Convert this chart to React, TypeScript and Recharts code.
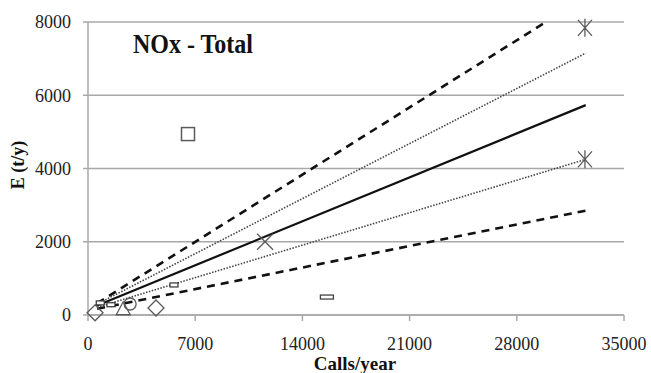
import React from "react";
import { ScatterChart, Scatter, XAxis, YAxis, CartesianGrid } from "recharts";

// Axis ticks
const xTicks = [0, 7000, 14000, 21000, 28000, 35000];
const yTicks = [0, 2000, 4000, 6000, 8000];

// Regression line and its bands (calls/year -> t/y)
const fitLine = [
  { x: 600, y: 260 },
  { x: 32500, y: 5730 },
];
const upperConf = [
  { x: 600, y: 300 },
  { x: 32500, y: 7150 },
];
const lowerConf = [
  { x: 600, y: 210 },
  { x: 32500, y: 4250 },
];
const upperPred = [
  { x: 600, y: 320 },
  { x: 29900, y: 8000 },
];
const lowerPred = [
  { x: 600, y: 170 },
  { x: 32500, y: 2850 },
];

// Observed points by site group
const squarePts = [{ x: 6530, y: 4940 }];
const diamondPts = [
  { x: 460, y: 60 },
  { x: 4440, y: 190 },
];
const trianglePts = [{ x: 2300, y: 170 }];
const circlePts = [{ x: 2750, y: 300 }];
const smallBarPts = [
  { x: 800, y: 330 },
  { x: 1500, y: 280 },
  { x: 5615, y: 820 },
];
const wideBarPts = [{ x: 15600, y: 490 }];
const crossPts = [{ x: 11560, y: 2000 }];
const starPts = [
  { x: 32450, y: 7840 },
  { x: 32450, y: 4250 },
];

const MARK = "#5a5a5a";
const FONT = "Liberation Serif";

const none = () => <g />;

const square = (p: any) => (
  <rect x={p.cx - 6.5} y={p.cy - 6.5} width={13} height={13} fill="#fff" stroke={MARK} strokeWidth={1.5} />
);
const diamond = (p: any) => (
  <path
    d={`M${p.cx},${p.cy - 8} L${p.cx + 8},${p.cy} L${p.cx},${p.cy + 8} L${p.cx - 8},${p.cy} Z`}
    fill="none"
    stroke={MARK}
    strokeWidth={1.3}
  />
);
const triangle = (p: any) => (
  <path
    d={`M${p.cx},${p.cy - 7} L${p.cx + 7},${p.cy + 6} L${p.cx - 7},${p.cy + 6} Z`}
    fill="none"
    stroke={MARK}
    strokeWidth={1.3}
  />
);
const circle = (p: any) => <circle cx={p.cx} cy={p.cy} r={6} fill="none" stroke={MARK} strokeWidth={1.3} />;
const smallBar = (p: any) => (
  <rect x={p.cx - 4} y={p.cy - 2} width={8} height={4} fill="#fff" stroke="#333" strokeWidth={1.2} />
);
const wideBar = (p: any) => (
  <rect x={p.cx - 6.5} y={p.cy - 2} width={13} height={4} fill="#fff" stroke="#444" strokeWidth={1.3} />
);
const cross = (p: any) => (
  <path
    d={`M${p.cx - 8},${p.cy - 8} L${p.cx + 8},${p.cy + 8} M${p.cx + 8},${p.cy - 8} L${p.cx - 8},${p.cy + 8}`}
    stroke={MARK}
    strokeWidth={1.3}
  />
);
const star = (p: any) => (
  <path
    d={`M${p.cx - 7},${p.cy - 8} L${p.cx + 7},${p.cy + 8} M${p.cx + 7},${p.cy - 8} L${p.cx - 7},${p.cy + 8} M${p.cx},${p.cy - 9} L${p.cx},${p.cy + 9}`}
    stroke={MARK}
    strokeWidth={1.3}
  />
);

// Tick text drawn as plain serif SVG text
const XTick = (p: any) => (
  <text x={p.x} y={p.y} dy="0.71em" textAnchor="middle" fontFamily={FONT} style={{ fontFamily: FONT }} fontSize={18} fill="#222">
    {p.payload.value}
  </text>
);
const YTick = (p: any) => (
  <text x={p.x} y={p.y} dy="0.355em" textAnchor="end" fontFamily={FONT} style={{ fontFamily: FONT }} fontSize={18} fill="#222">
    {p.payload.value}
  </text>
);

export default function App() {
  return (
    <div style={{ position: "absolute", left: 0, top: 0, width: 651, height: 373, background: "#fff" }}>
      <ScatterChart width={651} height={373} margin={{ top: 22, right: 27, bottom: 0, left: 0 }}>
        <CartesianGrid vertical={false} stroke="#a8a8a8" strokeWidth={1.5} />
        <XAxis
          type="number"
          dataKey="x"
          domain={[0, 35000]}
          ticks={xTicks}
          height={58}
          stroke="#a8a8a8"
          strokeWidth={1.5}
          tickSize={6}
          tickMargin={16}
          tick={XTick}
        />
        <YAxis
          type="number"
          dataKey="y"
          domain={[0, 8000]}
          ticks={yTicks}
          width={88}
          stroke="#a8a8a8"
          strokeWidth={1.5}
          tickSize={5}
          tickMargin={12}
          tick={YTick}
        />
        <Scatter data={upperPred} line={{ stroke: "#111", strokeWidth: 2.6, strokeDasharray: "8 6" }} shape={none} isAnimationActive={false} />
        <Scatter data={lowerPred} line={{ stroke: "#111", strokeWidth: 2.6, strokeDasharray: "8 6" }} shape={none} isAnimationActive={false} />
        <Scatter data={upperConf} line={{ stroke: "#444", strokeWidth: 1.6, strokeDasharray: "1.5 1.5" }} shape={none} isAnimationActive={false} />
        <Scatter data={lowerConf} line={{ stroke: "#444", strokeWidth: 1.6, strokeDasharray: "1.5 1.5" }} shape={none} isAnimationActive={false} />
        <Scatter data={fitLine} line={{ stroke: "#111", strokeWidth: 2.2 }} shape={none} isAnimationActive={false} />
        <Scatter data={squarePts} shape={square} isAnimationActive={false} />
        <Scatter data={diamondPts} shape={diamond} isAnimationActive={false} />
        <Scatter data={trianglePts} shape={triangle} isAnimationActive={false} />
        <Scatter data={circlePts} shape={circle} isAnimationActive={false} />
        <Scatter data={smallBarPts} shape={smallBar} isAnimationActive={false} />
        <Scatter data={wideBarPts} shape={wideBar} isAnimationActive={false} />
        <Scatter data={crossPts} shape={cross} isAnimationActive={false} />
        <Scatter data={starPts} shape={star} isAnimationActive={false} />
      </ScatterChart>
      <svg width={651} height={373} style={{ position: "absolute", left: 0, top: 0, pointerEvents: "none" }}>
        <text x={133} y={53} fontFamily={FONT} style={{ fontFamily: FONT }} fontWeight="bold" fontSize={28} fill="#111" textLength={120} lengthAdjust="spacingAndGlyphs">
          NOx - Total
        </text>
        <text x={355} y={370} fontFamily={FONT} style={{ fontFamily: FONT }} textAnchor="middle" fontWeight="bold" fontSize={19} fill="#111">
          Calls/year
        </text>
        <text
          x={0}
          y={0}
          transform="translate(24,165) rotate(-90)"
          textAnchor="middle"
          fontFamily={FONT}
          style={{ fontFamily: FONT }}
          fontWeight="bold"
          fontSize={18}
          fill="#111"
        >
          E (t/y)
        </text>
      </svg>
    </div>
  );
}
